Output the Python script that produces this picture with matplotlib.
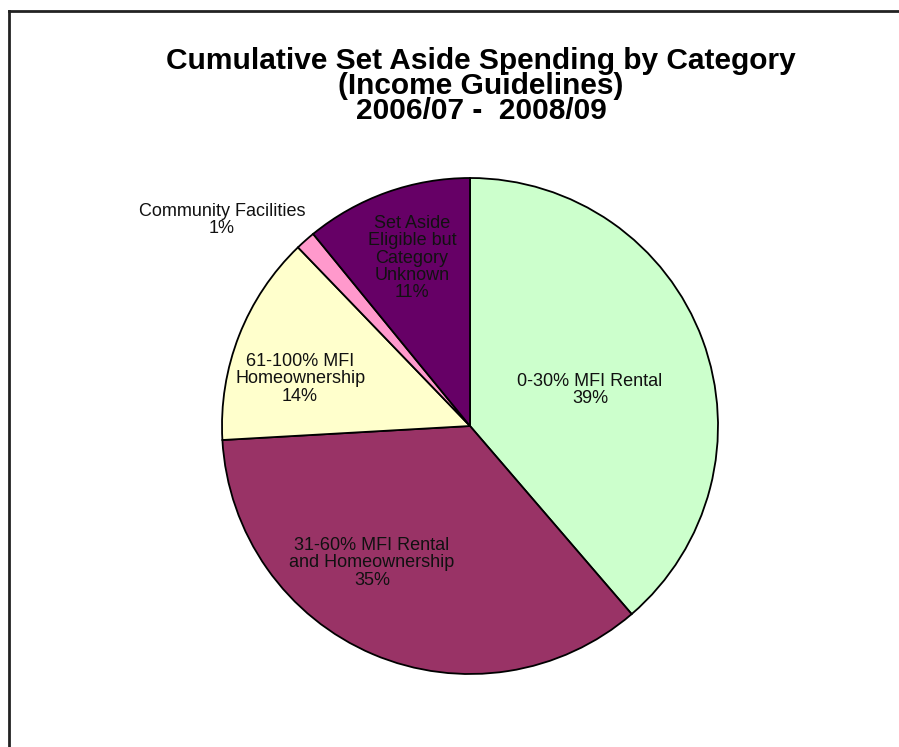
import matplotlib
matplotlib.use("Agg")
import matplotlib.pyplot as plt
from matplotlib.lines import Line2D

categories = ["0-30% MFI Rental", "31-60% MFI Rental\nand Homeownership",
              "61-100% MFI\nHomeownership", "Community Facilities",
              "Set Aside\nEligible but\nCategory\nUnknown"]
values = [38.7, 35.4, 13.7, 1.3, 10.9]
pct_labels = ["39%", "35%", "14%", "1%", "11%"]
colors = ["#CCFFCC", "#993366", "#FFFFCC", "#FF99CC", "#660066"]
title = "Cumulative Set Aside Spending by Category\n(Income Guidelines)\n2006/07 -  2008/09"

plt.rcParams['font.family'] = ['Liberation Sans', 'DejaVu Sans']

W, H = 899, 747
fig = plt.figure(figsize=(W / 100, H / 100), dpi=100)
fig.patch.set_linewidth(0)
fig.patch.set_edgecolor('white')
ax = fig.add_axes([0, 0, 1, 1])
R = 248.0
cx, cy = 470.0, 426.0

wedges, _ = ax.pie(values, colors=colors, startangle=90, counterclock=False,
                   radius=1, center=(0, 0),
                   wedgeprops=dict(edgecolor='black', linewidth=1.3))
ax.set_xlim(-cx / R, (W - cx) / R)
ax.set_ylim(-(H - cy) / R, cy / R)
ax.set_aspect('equal')
ax.axis('off')

label_pos = [(0.484, 0.145), (-0.395, -0.552), (-0.685, 0.19),
             (-1.0, 0.83), (-0.234, 0.677)]
for cat, pct, (x, y) in zip(categories, pct_labels, label_pos):
    ax.text(x, y, f"{cat}\n{pct}", ha='center', va='center', fontsize=13,
            color='#111111', linespacing=1.02)

fig.text(481 / W, 1 - 86 / H, title, ha='center', va='center',
         fontsize=21.5, fontweight='bold', linespacing=0.86)

# outer frame (only left and top edges fall inside the image)
fx, fy = 8.5 / W, 1 - 10.5 / H
fig.add_artist(Line2D([fx, fx], [-0.1, fy], transform=fig.transFigure,
                      color='#222222', linewidth=2, solid_capstyle='projecting'))
fig.add_artist(Line2D([fx, 1.2], [fy, fy], transform=fig.transFigure,
                      color='#222222', linewidth=2, solid_capstyle='projecting'))

fig.savefig("out.png", dpi=100)
